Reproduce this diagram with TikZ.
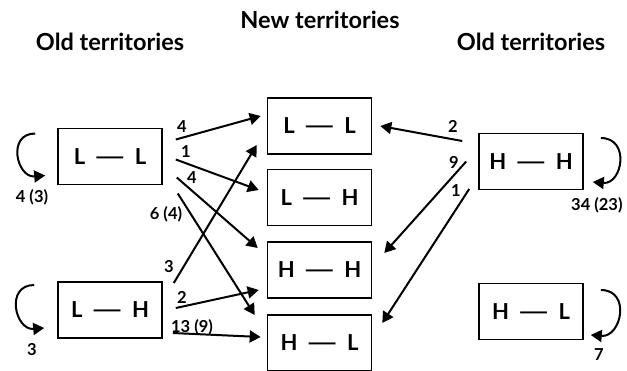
\documentclass[tikz,border=0pt]{standalone}
\usepackage{fontspec}
\setmainfont{Lato}
\usepackage{tikz}
\usetikzlibrary{arrows.meta,calc}

\newcommand{\pairdash}{\hspace{9pt}\scalebox{1.8}[1]{—}\hspace{9pt}}

\begin{document}
\begin{tikzpicture}[x=1pt,y=-1pt,
    territory/.style={draw,line width=1.6pt,minimum width=104pt,minimum height=56pt,
      inner sep=0pt,font=\fontsize{22}{22}\selectfont\bfseries},
    flow/.style={line width=2pt,-{Triangle[length=11pt,width=12pt]}},
    count/.style={inner sep=0pt,font=\fontsize{16.5}{16.5}\selectfont\bfseries},
    heading/.style={inner sep=0pt,font=\fontsize{23.5}{23.5}\selectfont\bfseries}]
  \useasboundingbox (0,0) rectangle (627,370);

  % headings
  \node[heading] (oldleft) at (110,42) {Old territories};
  \node[heading] (new) at (320,20) {New territories};
  \node[heading] (oldright) at (531,42) {Old territories};

  % boxes
  \node[territory] (oLL) at (110,156.5) {L\pairdash L};
  \node[territory] (oLH) at (110,310) {L\pairdash H};
  \node[territory] (nLL) at (319.5,126) {L\pairdash L};
  \node[territory] (nLH) at (319.5,197.5) {L\pairdash H};
  \node[territory] (nHH) at (319.5,270) {H\pairdash H};
  \node[territory] (nHL) at (319.5,343) {H\pairdash L};
  \node[territory] (rHH) at (531,161.5) {H\pairdash H};
  \node[territory] (rHL) at (531,311.5) {H\pairdash L};

  % staying put
  \draw[flow] ($(oLL.west)+(-22,-23)$) to[out=180,in=185,looseness=1.7] ($(oLL.west)+(-12,19)$);
  \draw[flow] ($(oLH.west)+(-23,-25)$) to[out=180,in=185,looseness=1.7] ($(oLH.west)+(-13,18)$);
  \draw[flow] ($(rHH.east)+(17,-23.5)$) to[out=0,in=-5,looseness=1.7] ($(rHH.east)+(9,20.5)$);
  \draw[flow] ($(rHL.east)+(17,-21.5)$) to[out=0,in=-5,looseness=1.7] ($(rHL.east)+(7,23.5)$);
  \node[count] (kLL) at (32,197) {4 (3)};
  \node[count] (kLH) at (32,350) {3};
  \node[count,anchor=west] (kHH) at (571,205) {34 (23)};
  \node[count] (kHL) at (599,355) {7};

  % moves from the left
  \draw[flow] ($(oLL.east)+(13,-17)$) -- ($(nLL.west)+(-6,-10)$);
  \draw[flow] ($(oLL.east)+(13,3)$) -- ($(nLH.west)+(-8,-7.5)$);
  \draw[flow] ($(oLL.east)+(14,21)$) -- ($(nHH.west)+(-9,-22)$);
  \draw[flow] ($(oLL.east)+(15,37)$) -- ($(nHL.west)+(-12,-28)$);
  \draw[flow] ($(oLH.east)+(11,-27)$) -- ($(nLL.west)+(-10,19)$);
  \draw[flow] ($(oLH.east)+(13,-2)$) -- ($(nHH.west)+(-8,20)$);
  \draw[flow] ($(oLH.east)+(10,23)$) -- ($(nHL.west)+(-6,-6)$);
  \node[count] (a1) at (182,127) {4};
  \node[count] (a2) at (186,152) {1};
  \node[count] (a3) at (192,178) {4};
  \node[count] (a4) at (166,214) {6 (4)};
  \node[count] (b1) at (169,267) {3};
  \node[count] (b2) at (182,297) {2};
  \node[count] (b3) at (192,327) {13 (9)};

  % moves from the right
  \draw[flow] ($(rHH.west)+(-16,-20.5)$) -- ($(nLL.east)+(8,0)$);
  \draw[flow] ($(rHH.west)+(-12,0)$) -- ($(nHH.east)+(12,-17)$);
  \draw[flow] ($(rHH.west)+(-9,27.5)$) -- ($(nHL.east)+(10,-20)$);
  \node[count] (c1) at (453,126) {2};
  \node[count] (c2) at (454,162) {9};
  \node[count] (c3) at (456,191) {1};
\end{tikzpicture}
\end{document}
